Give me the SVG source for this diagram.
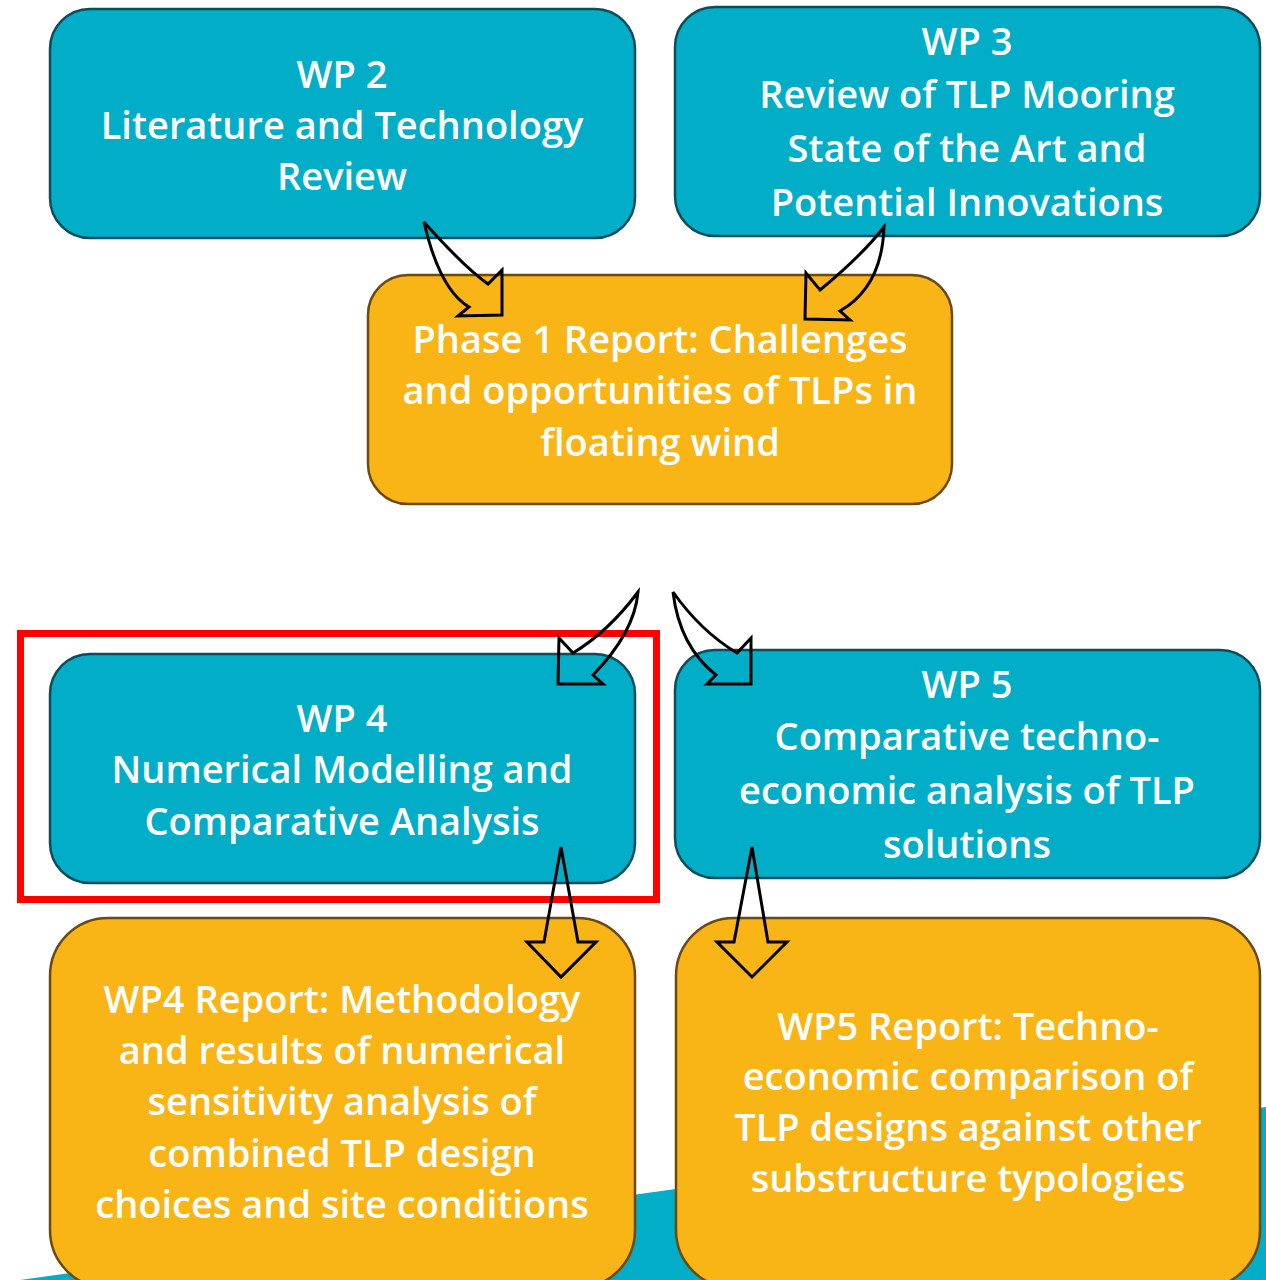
<svg xmlns="http://www.w3.org/2000/svg" width="1266" height="1280" viewBox="0 0 1266 1280">
  <style>
    .wp { fill: #02AEC7; stroke: #0C4D5B; stroke-width: 2.5; }
    .rep { fill: #F9B416; stroke: #6A4A10; stroke-width: 2.5; }
    .t { font-family: "Open Sans", Lato, sans-serif; font-weight: 600; font-size: 38px; fill: #FFFFFF; text-anchor: middle; }
    .arr { fill: none; stroke: #000000; stroke-width: 3; stroke-linejoin: miter; }
  </style>

  <rect width="1266" height="1280" fill="#FFFFFF"/>

  <!-- teal band along the bottom -->
  <polygon points="20,1280 1266,1107 1266,1280" fill="#02AEC7"/>

  <g id="wp2">
    <rect class="wp" x="50" y="9" width="585" height="229" rx="40"/>
    <text class="t" x="342" y="88">WP 2</text>
    <text class="t" x="342" y="139">Literature and Technology</text>
    <text class="t" x="342" y="190">Review</text>
  </g>

  <g id="wp3">
    <rect class="wp" x="675" y="7" width="585" height="229" rx="40"/>
    <text class="t" x="967" y="55">WP 3</text>
    <text class="t" x="967" y="108">Review of TLP Mooring</text>
    <text class="t" x="967" y="162">State of the Art and</text>
    <text class="t" x="967" y="216">Potential Innovations</text>
  </g>

  <g id="phase1">
    <rect class="rep" x="368" y="275" width="584" height="229" rx="40"/>
    <text class="t" x="660" y="353">Phase 1 Report: Challenges</text>
    <text class="t" x="660" y="404">and opportunities of TLPs in</text>
    <text class="t" x="660" y="456">floating wind</text>
  </g>

  <g id="wp4">
    <rect class="wp" x="50" y="654" width="585" height="229" rx="40"/>
    <text class="t" x="342" y="732">WP 4</text>
    <text class="t" x="342" y="783">Numerical Modelling and</text>
    <text class="t" x="342" y="835">Comparative Analysis</text>
  </g>

  <g id="wp5">
    <rect class="wp" x="675" y="650" width="585" height="228" rx="40"/>
    <text class="t" x="967" y="698">WP 5</text>
    <text class="t" x="967" y="750">Comparative techno-</text>
    <text class="t" x="967" y="804">economic analysis of TLP</text>
    <text class="t" x="967" y="858">solutions</text>
  </g>

  <g id="wp4-report">
    <rect class="rep" x="50" y="918" width="585" height="370" rx="58"/>
    <text class="t" x="342" y="1013">WP4 Report: Methodology</text>
    <text class="t" x="342" y="1064">and results of numerical</text>
    <text class="t" x="342" y="1115">sensitivity analysis of</text>
    <text class="t" x="342" y="1167">combined TLP design</text>
    <text class="t" x="342" y="1218">choices and site conditions</text>
  </g>

  <g id="wp5-report">
    <rect class="rep" x="676" y="918" width="584" height="370" rx="58"/>
    <text class="t" x="968" y="1040">WP5 Report: Techno-</text>
    <text class="t" x="968" y="1090">economic comparison of</text>
    <text class="t" x="968" y="1141">TLP designs against other</text>
    <text class="t" x="968" y="1192">substructure typologies</text>
  </g>

  <!-- highlight frame -->
  <g id="highlight">
    <rect x="20.5" y="633.5" width="636" height="266" fill="none" stroke="#FF0000" stroke-width="7"/>
  </g>

  <g id="connectors">
    <!-- WP2 to Phase 1 -->
    <path class="arr" d="M424,222 Q439.5,289.5 469,307 L458,316 L502,315 L502,270 L488,284 Q464,267 424,222 Z"/>
    <!-- WP3 to Phase 1 -->
    <path class="arr" d="M884,227 Q882,287 840,311 L850,320 L805,319 L806,273 L820,290 Q862,255.5 884,227 Z"/>
    <!-- Phase 1 to WP4 -->
    <path class="arr" d="M638,592 Q634.5,632.5 593,675 L603,684 L558,684 L559,638 L573,653 Q608.5,631.5 638,592 Z"/>
    <!-- Phase 1 to WP5 -->
    <path class="arr" d="M673,592 Q679.5,646.5 716,675 L707,684 L751,684 L751,638 L737,653 Q701,631.5 673,592 Z"/>
    <!-- WP4 to its report -->
    <path class="arr" d="M561,847 L578,942 L596,942 L561,977 L527,942 L544,942 Z"/>
    <!-- WP5 to its report -->
    <path class="arr" d="M752,847 L768,942 L787,942 L752,977 L717,942 L734,942 Z"/>
  </g>
</svg>
